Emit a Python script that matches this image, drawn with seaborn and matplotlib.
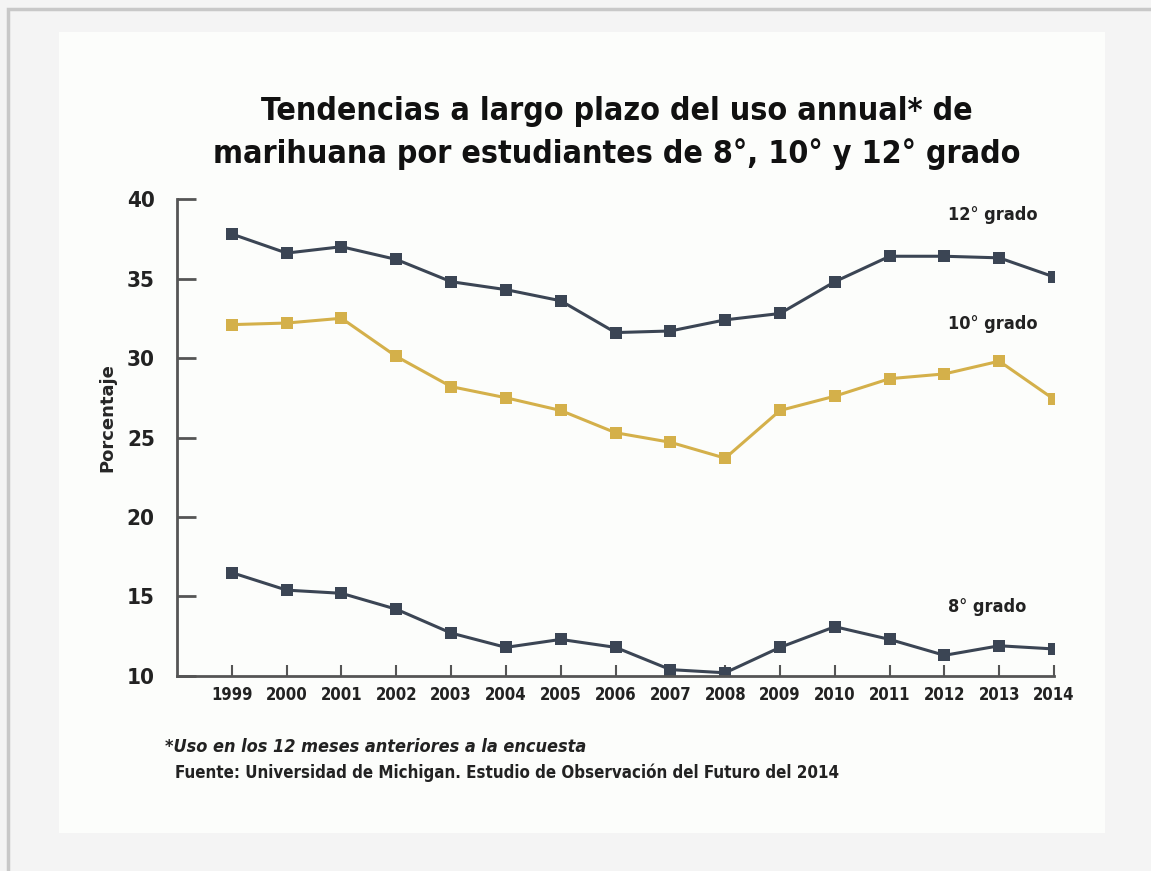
import pandas as pd
import numpy as np
import matplotlib.pyplot as plt
import matplotlib.patches as patches
import seaborn as sns

years = list(range(1999, 2015))
grado_12 = [37.8, 36.6, 37.0, 36.2, 34.8, 34.3, 33.6, 31.6, 31.7, 32.4, 32.8, 34.8, 36.4, 36.4, 36.3, 35.1]
grado_10 = [32.1, 32.2, 32.5, 30.1, 28.2, 27.5, 26.7, 25.3, 24.7, 23.7, 26.7, 27.6, 28.7, 29.0, 29.8, 27.4]
grado_8 = [16.5, 15.4, 15.2, 14.2, 12.7, 11.8, 12.3, 11.8, 10.4, 10.2, 11.8, 13.1, 12.3, 11.3, 11.9, 11.7]
series_names = ["12° grado", "10° grado", "8° grado"]

df = pd.DataFrame({"year": years * 3,
                   "value": grado_12 + grado_10 + grado_8,
                   "grado": [s for s in series_names for _ in years]})

sns.set_style("white")
plt.rcParams['font.family'] = ['DejaVu Sans']
plt.rcParams['font.stretch'] = 'condensed'

dark = "#3b4554"
gold = "#d4b04a"
pal = {"12° grado": dark, "10° grado": gold, "8° grado": dark}

fig = plt.figure(figsize=(11.51, 8.71), dpi=100, facecolor="#f4f4f4")
# outer border and white panel
fig.patches.append(patches.Rectangle((0.007, -0.2), 1.2, 1.1897, transform=fig.transFigure,
                                     facecolor="#f4f4f4", edgecolor="#c8c8c8", linewidth=2.5, zorder=-2))
fig.patches.append(patches.Rectangle((0.0513, 0.0436), 0.9088, 0.9196, transform=fig.transFigure,
                                     facecolor="#fcfdfb", edgecolor="none", zorder=-1))

ax = fig.add_axes([0.1538, 0.2239, 0.762, 0.5476])
ax.set_facecolor("none")
sns.lineplot(data=df, x="year", y="value", hue="grado", palette=pal, marker="s",
             markersize=8, markeredgewidth=0, linewidth=2.2, legend=False, ax=ax)

ax.set_xlim(1998, 2014)
ax.set_ylim(10, 40)
ax.set_xticks(years)
ax.set_xticklabels([str(y) for y in years], fontsize=12, fontweight="bold", color="#222222")
ax.set_yticks([10, 15, 20, 25, 30, 35, 40])
ax.set_yticklabels(["10", "15", "20", "25", "30", "35", "40"], fontsize=16, fontweight="bold", color="#222222")
ax.tick_params(axis="y", left=True, direction="in", length=14, width=2, color="#555555", pad=16)
ax.tick_params(axis="x", bottom=True, direction="in", length=8, width=1.5, color="#555555", pad=7)
for s in ["top", "right"]:
    ax.spines[s].set_visible(False)
for s in ["left", "bottom"]:
    ax.spines[s].set_color("#555555")
    ax.spines[s].set_linewidth(2)
ax.set_xlabel("")
ax.set_ylabel("Porcentaje", fontsize=13, fontweight="bold", fontstretch="normal")
ax.yaxis.set_label_coords(-0.069, 0.541)

ax.text(2012.07, 38.7, "12° grado", fontsize=13, fontweight="bold", color="#222222")
ax.text(2012.07, 31.8, "10° grado", fontsize=13, fontweight="bold", color="#222222")
ax.text(2012.07, 14.0, "8° grado", fontsize=13, fontweight="bold", color="#222222")

fig.text(0.536, 0.847, "Tendencias a largo plazo del uso annual* de\nmarihuana por estudiantes de 8°, 10° y 12° grado",
         ha="center", va="center", fontsize=23, fontweight="bold", color="#111111", linespacing=1.45)
fig.text(0.143, 0.137, "*Uso en los 12 meses anteriores a la encuesta", fontsize=13,
         fontweight="bold", style="italic", color="#222222")
fig.text(0.152, 0.107, "Fuente: Universidad de Michigan. Estudio de Observación del Futuro del 2014",
         fontsize=12.2, fontweight="bold", color="#222222")

fig.savefig("out.png", dpi=100, facecolor=fig.get_facecolor())
